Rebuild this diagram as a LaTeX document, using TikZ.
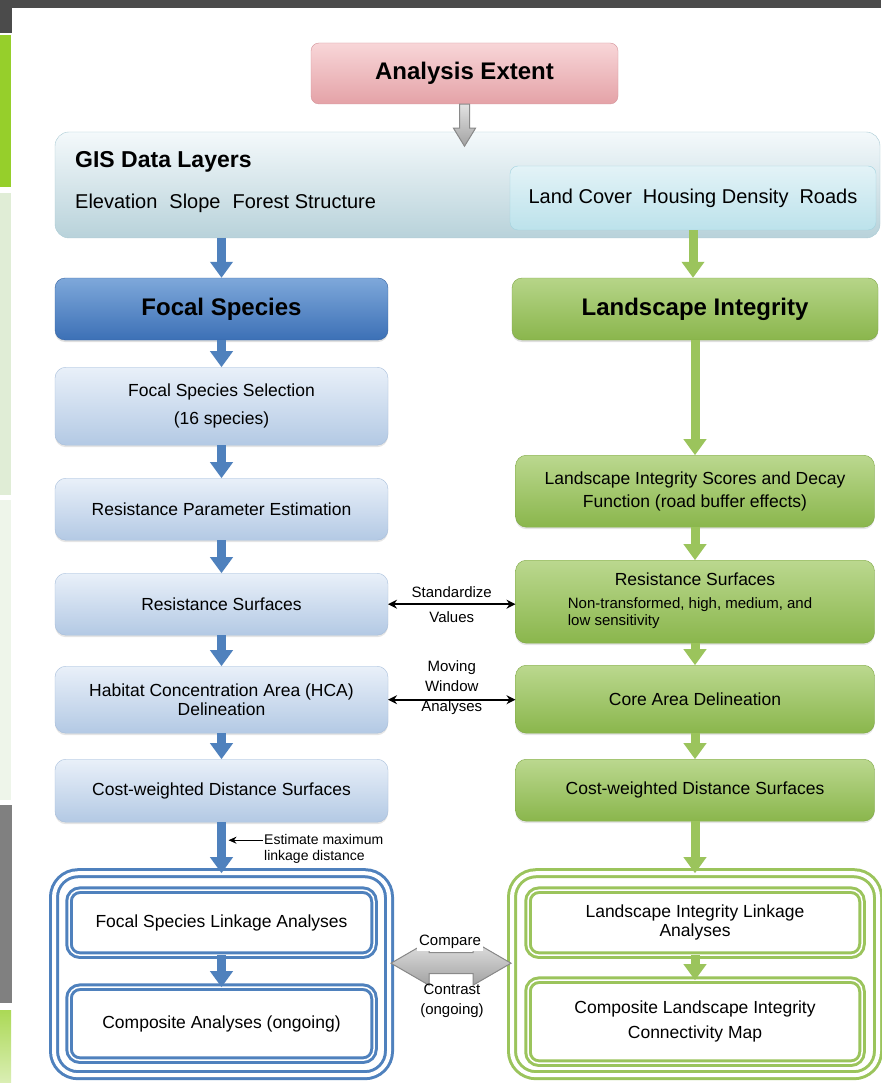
\documentclass[tikz,border=0pt]{standalone}
\usepackage{fontspec}
\setmainfont{Liberation Sans}
\usetikzlibrary{positioning, arrows.meta, calc, shadows}
\definecolor{cFrame}{HTML}{4B4B4B}
\definecolor{cStripGreen}{HTML}{96CF2B}
\definecolor{cStripPale}{HTML}{E0EDD6}
\definecolor{cStripPaler}{HTML}{EEF5EA}
\definecolor{cStripGray}{HTML}{808080}
\definecolor{cPinkTop}{HTML}{F8D6D8}
\definecolor{cPinkBot}{HTML}{E4A2A7}
\definecolor{cPinkLine}{HTML}{D4949A}
\definecolor{cGisTop}{HTML}{F4F9FB}
\definecolor{cGisBot}{HTML}{B8D2DA}
\definecolor{cGisLine}{HTML}{A9CAD4}
\definecolor{cCyanTop}{HTML}{E3F3F7}
\definecolor{cCyanBot}{HTML}{BCE2EB}
\definecolor{cCyanLine}{HTML}{A2D3DF}
\definecolor{cBlueTop}{HTML}{7EA8DA}
\definecolor{cBlueBot}{HTML}{3C70B6}
\definecolor{cBlueEdge}{HTML}{3765A3}
\definecolor{cBlueLine}{HTML}{4F81BD}
\definecolor{cPaleTop}{HTML}{E9F0F9}
\definecolor{cPaleBot}{HTML}{B3C9E4}
\definecolor{cPaleLine}{HTML}{A7BEDB}
\definecolor{cGreenTop}{HTML}{BBD88F}
\definecolor{cGreenBot}{HTML}{8AB64C}
\definecolor{cGreenLine}{HTML}{7EA745}
\definecolor{cGreenArrow}{HTML}{9BC45C}
\definecolor{cGrayTop}{HTML}{E2E2E2}
\definecolor{cGrayBot}{HTML}{A2A2A2}
\definecolor{cGrayLine}{HTML}{8A8A8A}
\tikzset{
  extentbox/.style={
    draw=cPinkLine, top color=cPinkTop, bottom color=cPinkBot,
    rounded corners=8pt, minimum width=307pt, minimum height=61pt,
    font=\fontsize{24}{28}\selectfont\bfseries
  },
  gisbox/.style={
    draw=cGisLine, top color=cGisTop, bottom color=cGisBot,
    rounded corners=14pt, minimum width=825pt, minimum height=106pt
  },
  layerbox/.style={
    draw=cCyanLine, top color=cCyanTop, bottom color=cCyanBot,
    rounded corners=8pt, minimum width=366pt, minimum height=64pt,
    font=\fontsize{20}{24}\selectfont
  },
  titlebox/.style={
    draw=#1, rounded corners=10pt, minimum height=62pt,
    font=\fontsize{24}{28}\selectfont\bfseries,
    drop shadow={shadow xshift=0pt, shadow yshift=-2pt, opacity=0.25}
  },
  leftbox/.style={
    draw=cPaleLine, top color=cPaleTop, bottom color=cPaleBot,
    rounded corners=11pt, minimum width=333pt, outer sep=0pt,
    align=center, font=\fontsize{17.5}{21}\selectfont,
    drop shadow={shadow xshift=0pt, shadow yshift=-2pt, opacity=0.2}
  },
  rightbox/.style={
    draw=cGreenLine, top color=cGreenTop, bottom color=cGreenBot,
    rounded corners=11pt, minimum width=359pt, outer sep=0pt,
    align=center, font=\fontsize{17.5}{21}\selectfont,
    drop shadow={shadow xshift=0pt, shadow yshift=-2pt, opacity=0.2}
  },
  ringbox/.style={
    draw=#1, double=white, double distance=4pt, line width=3pt,
    fill=white, rounded corners=24pt, outer sep=0pt
  },
  linkbox/.style={
    draw=#1, double=white, double distance=1.5pt, line width=3pt,
    fill=white, rounded corners=11pt, outer sep=0pt,
    align=center, font=\fontsize{17.5}{21}\selectfont
  },
  flowarrow/.style={
    line width=9pt, draw=#1, -{Triangle[length=16pt, width=22pt]}
  },
  sidearrow/.style={
    line width=1.6pt, {Stealth[length=9pt, width=9pt]}-{Stealth[length=9pt, width=9pt]}
  },
  pointer/.style={
    line width=1.4pt, -{Stealth[length=8pt, width=7pt]}
  },
  grayarrow/.style={
    draw=cGrayLine, line width=1pt, top color=cGrayTop, bottom color=cGrayBot
  },
  sidelabel/.style={
    font=\fontsize{15}{20}\selectfont, align=center, inner sep=1pt
  },
}

\begin{document}
\begin{tikzpicture}[x=1pt, y=1pt]
\useasboundingbox (0,0) rectangle (881,-1083);
\fill[white] (0,0) rectangle (881,-1083);

% ---- window frame ----
\fill[cFrame] (0,0) rectangle (881,-8);
\fill[cFrame] (0,0) rectangle (12,-33);
\fill[cStripGreen] (0,-35) rectangle (11,-187);
\fill[cStripPale] (0,-193) rectangle (11,-495);
\fill[cStripPaler] (0,-500) rectangle (11,-800);
\fill[cStripGray] (0,-805) rectangle (12,-1003);
\shade[top color=cStripGreen!80, bottom color=cStripGreen!35]
  (0,-1010) rectangle (11,-1083);

% ---- Inputs ----
\node[extentbox] (extent) at (464.5,-73.5) {Analysis Extent};
\node[gisbox] (gis) at (467.5,-185) {};
\node[layerbox] (gisright) at (693,-198)
  {Land Cover\hspace{11pt}Housing Density\hspace{11pt}Roads};
\node[anchor=base west, inner sep=0pt, font=\fontsize{23}{27}\selectfont\bfseries]
  (gistitle) at (75,-168) {GIS Data Layers};
\node[anchor=base west, inner sep=0pt, font=\fontsize{20}{24}\selectfont]
  (gisleft) at (75,-209) {Elevation\hspace{12pt}Slope\hspace{12pt}Forest Structure};

% extent -> gis
\filldraw[grayarrow] ([xshift=-5pt]extent.south) -- ++(0,-24) -- ++(-6,0)
  -- ++(11,-18) -- ++(11,18) -- ++(-6,0) -- ++(0,24) -- cycle;

% ---- Focal species column ----
\node[titlebox=cBlueEdge, top color=cBlueTop, bottom color=cBlueBot,
  minimum width=333pt] (focal) at (221.5,-309) {Focal Species};
\node[leftbox, minimum height=78pt, below=27pt of focal] (select)
  {Focal Species Selection\\[7pt](16 species)};
\node[leftbox, minimum height=62pt, below=33pt of select] (param)
  {Resistance Parameter Estimation};
\node[leftbox, minimum height=62pt, below=33pt of param] (lres)
  {Resistance Surfaces};
\node[leftbox, minimum height=67pt, below=31pt of lres] (hca)
  {Habitat Concentration Area (HCA)\\[-2pt]Delineation};
\node[leftbox, minimum height=63pt, below=26pt of hca] (lcost)
  {Cost-weighted Distance Surfaces};
\node[ringbox=cBlueLine, minimum width=335pt, minimum height=202pt,
  below=51pt of lcost] (lbig) {};
\node[linkbox=cBlueLine, minimum width=305pt, minimum height=65pt,
  below=17pt of lbig.north] (llink) {Focal Species Linkage Analyses};
\node[linkbox=cBlueLine, minimum width=305pt, minimum height=73pt,
  below=32pt of llink] (lcomp) {Composite Analyses (ongoing)};

% ---- Landscape integrity column ----
\node[titlebox=cGreenLine, top color=cGreenTop!90!cGreenBot,
  bottom color=cGreenBot, minimum width=366pt] (integ) at (695,-309)
  {Landscape Integrity};
\node[rightbox, minimum height=72pt, below=115pt of integ] (score)
  {Landscape Integrity Scores and Decay\\[2pt]Function (road buffer effects)};
\node[rightbox, minimum height=83pt, below=33pt of score] (rres)
  {Resistance Surfaces\\[2pt]
   \hspace*{-10pt}{\fontsize{15}{17}\selectfont\begin{tabular}[t]{@{}l@{}}
   Non-transformed, high, medium, and\\low sensitivity\end{tabular}}};
\node[rightbox, minimum height=68pt, below=22pt of rres] (core)
  {Core Area Delineation};
\node[rightbox, minimum height=62pt, below=26pt of core] (rcost)
  {Cost-weighted Distance Surfaces};
\node[ringbox=cGreenArrow, minimum width=366pt, minimum height=202pt,
  below=52pt of rcost] (rbig) {};
\node[linkbox=cGreenArrow, minimum width=334pt, minimum height=65pt,
  below=17pt of rbig.north] (rlink) {Landscape Integrity Linkage\\[-2pt]Analyses};
\node[linkbox=cGreenArrow, minimum width=334pt, minimum height=83pt,
  below=25pt of rlink] (rcomp)
  {Composite Landscape Integrity\\[4pt]Connectivity Map};

% ---- Flow arrows ----
\draw[flowarrow=cBlueLine] (gis.south -| focal) -- (focal.north);
\draw[flowarrow=cBlueLine] (focal) -- (select);
\draw[flowarrow=cBlueLine] (select) -- (param);
\draw[flowarrow=cBlueLine] (param) -- (lres);
\draw[flowarrow=cBlueLine] (lres) -- (hca);
\draw[flowarrow=cBlueLine] (hca) -- (lcost);
\draw[flowarrow=cBlueLine] (lcost.south) -- (lcost.south |- lbig.north);
\draw[flowarrow=cBlueLine] (llink) -- (lcomp);

\draw[flowarrow=cGreenArrow] (gisright.south) -- (gisright.south |- integ.north);
\draw[flowarrow=cGreenArrow] (integ.south) -- (integ.south |- score.north);
\draw[flowarrow=cGreenArrow] (score) -- (rres);
\draw[flowarrow=cGreenArrow] (rres) -- (core);
\draw[flowarrow=cGreenArrow] (core) -- (rcost);
\draw[flowarrow=cGreenArrow] (rcost.south) -- (rcost.south |- rbig.north);
\draw[flowarrow=cGreenArrow] (rlink) -- (rcomp);

% ---- Cross links ----
\draw[sidearrow] (lres.east) -- (lres.east -| rres.west)
  node[midway, above=5pt, sidelabel] (stdtop) {Standardize}
  node[midway, below=6pt, sidelabel] (stdbot) {Values};
\draw[sidearrow] (hca.east) -- (hca.east -| core.west);
\node[sidelabel] (movlab) at ($(hca.east)!0.5!(hca.east -| core.west)+(0,12)$)
  {Moving\\Window\\Analyses};

% estimate maximum linkage distance
\node[anchor=west, align=left, font=\fontsize{14}{16}\selectfont, inner sep=1pt]
  (estlab) at (263,-849) {Estimate maximum\\linkage distance};
\coordinate (estend) at ($(lcost.south)+(7,-18)$);
\draw[pointer] (estend -| estlab.west) -- (estend);

% compare / contrast
\coordinate (cmpL) at ([xshift=2pt, yshift=11pt]lbig.east);
\coordinate (cmpR) at ([xshift=-1pt, yshift=11pt]rbig.west);
\filldraw[grayarrow] (cmpL) -- ++(38,22) -- ++(0,-11.5)
  -- ($(cmpR)+(-38,10.5)$) -- ++(0,11.5) -- (cmpR) -- ++(-38,-22)
  -- ++(0,11.5) -- ($(cmpL)+(38,-10.5)$) -- ++(0,-11.5) -- cycle;
\node[sidelabel, fill=white, inner sep=2pt] (cmplab) at (450,-942) {Compare};
\node[sidelabel] (ctrlab) at (452,-1001) {Contrast\\(ongoing)};

\end{tikzpicture}
\end{document}
